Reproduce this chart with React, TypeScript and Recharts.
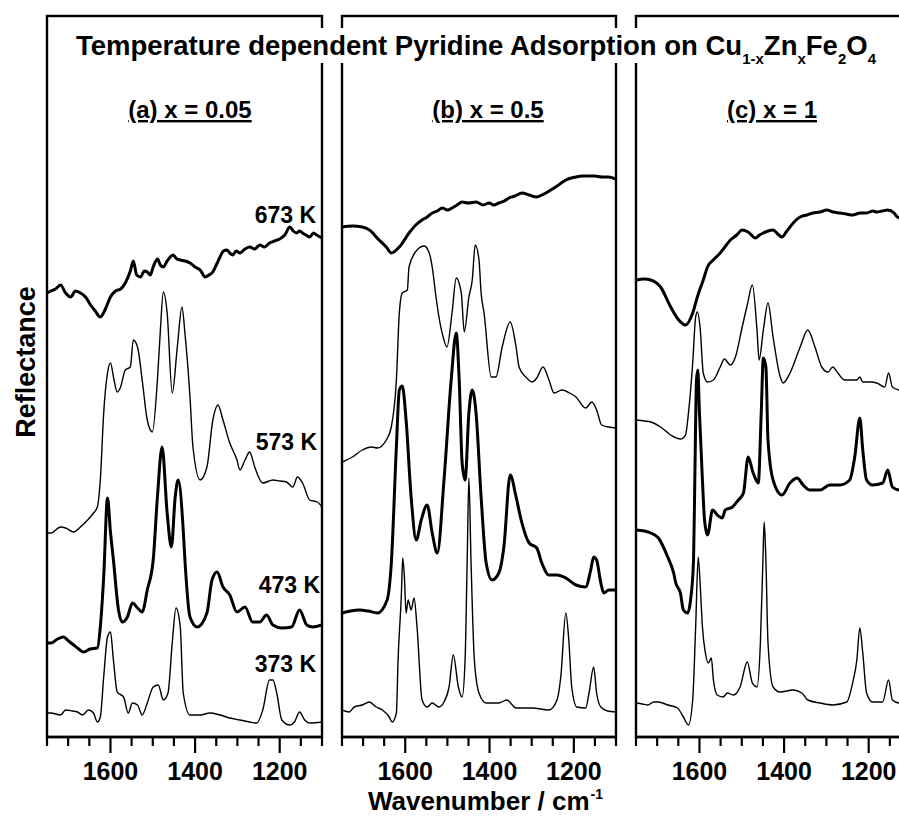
import React from 'react';
import { LineChart, Line, XAxis, YAxis } from 'recharts';

type Pt = [number, number];

const FONT = '"Liberation Sans", Arial, Helvetica, sans-serif';

const TICKS = [1100, 1150, 1200, 1250, 1300, 1350, 1400, 1450, 1500, 1550, 1600, 1650, 1700, 1750];
const MAJOR_TICKS = [1200, 1400, 1600];
const TEMPS = ['673 K', '573 K', '473 K', '373 K'];
const PANEL_NAMES = ['(a) x = 0.05', '(b) x = 0.5', '(c) x = 1'];

// spectra: [wavenumber, reflectance (arb. units, stacked)]
const a673: Pt[] = [
  [1750, 444], [1741, 446], [1730, 448], [1718, 452], [1706, 444], [1694, 440], [1683, 446], [1671, 444],
  [1659, 440], [1647, 432], [1636, 426], [1624, 420], [1612, 428], [1600, 440], [1588, 446], [1576, 448],
  [1565, 454], [1553, 466], [1546, 476], [1538, 462], [1529, 460], [1520, 466], [1513, 465], [1506, 462],
  [1499, 470], [1489, 478], [1482, 472], [1475, 470], [1466, 476], [1452, 482], [1443, 478], [1435, 477],
  [1424, 476], [1412, 474], [1400, 470], [1388, 467], [1376, 460], [1367, 462], [1358, 465], [1350, 472],
  [1341, 480], [1333, 486], [1325, 487], [1318, 484], [1311, 482], [1303, 486], [1294, 484], [1282, 488],
  [1271, 490], [1259, 488], [1247, 492], [1236, 490], [1224, 494], [1212, 496], [1200, 498], [1188, 502],
  [1176, 510], [1168, 506], [1160, 504], [1153, 506], [1146, 504], [1138, 502], [1129, 500], [1120, 504],
  [1113, 502], [1100, 499],
];
const a573: Pt[] = [
  [1750, 204], [1741, 204], [1718, 210], [1706, 209], [1687, 205], [1671, 210], [1654, 217], [1640, 224],
  [1631, 230], [1624, 257], [1616, 324], [1607, 364], [1600, 374], [1592, 358], [1584, 345], [1576, 350],
  [1565, 367], [1553, 370], [1546, 397], [1536, 390], [1525, 357], [1513, 317], [1501, 305], [1489, 357],
  [1482, 407], [1475, 445], [1466, 424], [1454, 344], [1442, 390], [1431, 430], [1424, 404], [1412, 340],
  [1405, 290], [1388, 257], [1372, 270], [1358, 317], [1346, 332], [1334, 317], [1318, 294], [1301, 277],
  [1294, 267], [1282, 277], [1271, 285], [1259, 270], [1240, 254], [1216, 257], [1200, 256], [1184, 255],
  [1169, 250], [1158, 260], [1146, 254], [1129, 237], [1111, 235], [1100, 230],
];
const a473: Pt[] = [
  [1750, 94], [1741, 94], [1725, 98], [1711, 100], [1699, 96], [1687, 92], [1675, 88], [1664, 85],
  [1648, 88], [1631, 89], [1624, 110], [1616, 160], [1607, 239], [1600, 205], [1593, 177], [1581, 127],
  [1572, 115], [1560, 120], [1548, 134], [1536, 129], [1525, 125], [1513, 147], [1499, 177], [1489, 240],
  [1478, 290], [1466, 224], [1456, 190], [1447, 240], [1440, 257], [1428, 207], [1424, 177], [1412, 120],
  [1395, 110], [1372, 124], [1360, 157], [1348, 165], [1334, 150], [1318, 142], [1301, 125], [1282, 130],
  [1264, 115], [1247, 115], [1231, 122], [1216, 112], [1195, 109], [1172, 110], [1153, 127], [1136, 112],
  [1122, 110], [1100, 112],
];
const a373: Pt[] = [
  [1750, 24], [1741, 24], [1718, 22], [1706, 27], [1690, 26], [1678, 25], [1666, 22], [1652, 27],
  [1640, 24], [1631, 15], [1624, 20], [1616, 60], [1607, 100], [1600, 105], [1593, 77], [1584, 45],
  [1569, 40], [1558, 24], [1548, 34], [1536, 32], [1525, 22], [1513, 34], [1499, 50], [1487, 52],
  [1475, 37], [1464, 44], [1454, 94], [1445, 129], [1435, 110], [1428, 44], [1412, 22], [1388, 22],
  [1365, 24], [1341, 22], [1318, 19], [1294, 17], [1271, 15], [1254, 14], [1240, 27], [1224, 57],
  [1216, 57], [1207, 44], [1195, 17], [1176, 12], [1165, 15], [1153, 25], [1141, 17], [1129, 14],
  [1100, 15],
];

const b673: Pt[] = [
  [1750, 510], [1725, 511], [1702, 510], [1685, 507], [1662, 497], [1645, 490], [1633, 484], [1614, 490],
  [1591, 504], [1575, 512], [1560, 517], [1548, 520], [1536, 524], [1524, 526], [1512, 529], [1500, 527],
  [1489, 529], [1477, 532], [1465, 535], [1450, 534], [1432, 535], [1415, 532], [1401, 534], [1390, 532],
  [1378, 534], [1365, 536], [1354, 539], [1340, 541], [1323, 544], [1306, 542], [1288, 540], [1276, 542],
  [1266, 544], [1255, 547], [1243, 550], [1230, 554], [1219, 557], [1195, 560], [1180, 561], [1164, 561],
  [1150, 561], [1134, 560], [1118, 560], [1100, 558],
];
const b573: Pt[] = [
  [1750, 275], [1725, 280], [1702, 287], [1680, 290], [1666, 289], [1645, 297], [1633, 310], [1621, 357],
  [1614, 424], [1607, 444], [1595, 447], [1591, 470], [1572, 487], [1555, 491], [1543, 484], [1536, 470],
  [1527, 440], [1520, 420], [1510, 400], [1501, 390], [1489, 424], [1479, 459], [1467, 444], [1460, 405],
  [1449, 440], [1441, 457], [1434, 492], [1425, 477], [1420, 444], [1413, 424], [1396, 360], [1385, 360],
  [1370, 390], [1351, 415], [1337, 390], [1330, 370], [1314, 360], [1299, 355], [1288, 359], [1273, 370],
  [1259, 357], [1247, 344], [1228, 347], [1210, 344], [1195, 340], [1172, 329], [1157, 335], [1146, 327],
  [1134, 312], [1117, 310], [1100, 309],
];
const b473: Pt[] = [
  [1750, 124], [1730, 126], [1709, 127], [1688, 126], [1666, 124], [1643, 137], [1633, 174], [1621, 290],
  [1614, 347], [1607, 351], [1598, 317], [1586, 240], [1574, 197], [1562, 217], [1548, 232], [1536, 204],
  [1524, 184], [1508, 257], [1491, 357], [1479, 404], [1472, 357], [1465, 274], [1458, 257], [1449, 324],
  [1441, 347], [1432, 324], [1420, 240], [1408, 174], [1394, 157], [1378, 164], [1366, 190], [1351, 262],
  [1337, 240], [1325, 217], [1306, 194], [1288, 189], [1276, 174], [1259, 162], [1240, 162], [1219, 159],
  [1195, 152], [1172, 150], [1160, 167], [1153, 180], [1146, 177], [1136, 154], [1129, 144], [1117, 147],
  [1100, 147],
];
const b373: Pt[] = [
  [1750, 27], [1733, 25], [1721, 30], [1702, 32], [1685, 35], [1669, 30], [1654, 27], [1638, 20],
  [1631, 15], [1621, 24], [1617, 77], [1609, 144], [1606, 179], [1602, 160], [1598, 124], [1593, 137],
  [1586, 127], [1579, 139], [1572, 110], [1560, 37], [1548, 30], [1536, 34], [1520, 30], [1508, 35],
  [1496, 50], [1486, 82], [1474, 50], [1465, 40], [1458, 77], [1453, 177], [1449, 259], [1444, 177],
  [1436, 77], [1425, 44], [1408, 34], [1378, 34], [1359, 37], [1337, 29], [1299, 29], [1259, 27],
  [1240, 37], [1231, 60], [1219, 124], [1212, 97], [1205, 50], [1193, 30], [1172, 29], [1164, 44],
  [1153, 70], [1146, 44], [1136, 30], [1120, 26], [1100, 25],
];

const c673: Pt[] = [
  [1750, 457], [1730, 458], [1715, 457], [1692, 450], [1668, 430], [1649, 417], [1633, 412], [1616, 424],
  [1605, 440], [1591, 457], [1581, 470], [1565, 478], [1551, 484], [1540, 490], [1527, 497], [1512, 502],
  [1499, 507], [1485, 505], [1468, 499], [1458, 502], [1449, 504], [1438, 506], [1426, 507], [1415, 503],
  [1405, 500], [1395, 505], [1386, 510], [1374, 516], [1362, 520], [1346, 522], [1332, 524], [1315, 525],
  [1299, 527], [1284, 525], [1268, 524], [1253, 523], [1238, 522], [1220, 524], [1205, 524], [1190, 526],
  [1181, 525], [1168, 526], [1155, 527], [1140, 524], [1132, 520], [1115, 518], [1100, 518],
];
const c573: Pt[] = [
  [1750, 317], [1730, 316], [1715, 315], [1692, 310], [1668, 302], [1645, 298], [1633, 302], [1626, 324],
  [1616, 374], [1609, 420], [1605, 425], [1598, 407], [1591, 364], [1581, 355], [1567, 357], [1551, 370],
  [1541, 378], [1527, 372], [1515, 380], [1499, 410], [1487, 432], [1475, 452], [1464, 407], [1459, 377],
  [1449, 407], [1438, 434], [1426, 400], [1409, 360], [1402, 354], [1386, 364], [1362, 390], [1344, 407],
  [1327, 390], [1311, 370], [1296, 365], [1285, 370], [1273, 364], [1257, 357], [1228, 357], [1221, 360],
  [1214, 355], [1195, 355], [1181, 354], [1162, 350], [1153, 364], [1144, 350], [1129, 347], [1115, 346],
  [1100, 345],
];
const c473: Pt[] = [
  [1750, 207], [1730, 206], [1715, 204], [1697, 199], [1675, 180], [1661, 164], [1656, 154], [1645, 144],
  [1638, 127], [1628, 124], [1621, 137], [1614, 177], [1611, 257], [1607, 357], [1604, 367], [1600, 324],
  [1593, 257], [1588, 217], [1581, 202], [1569, 227], [1558, 222], [1546, 219], [1539, 227], [1522, 230],
  [1508, 237], [1496, 244], [1485, 280], [1473, 264], [1461, 254], [1454, 324], [1449, 379], [1443, 370],
  [1438, 297], [1426, 257], [1405, 242], [1386, 254], [1369, 259], [1355, 252], [1339, 247], [1315, 247],
  [1292, 252], [1268, 252], [1245, 257], [1233, 280], [1221, 319], [1214, 287], [1205, 257], [1191, 252],
  [1167, 254], [1155, 267], [1144, 250], [1129, 247], [1100, 246],
];
const c373: Pt[] = [
  [1750, 34], [1735, 33], [1722, 32], [1708, 35], [1697, 35], [1675, 32], [1652, 29], [1638, 20],
  [1626, 12], [1616, 37], [1609, 110], [1603, 180], [1598, 150], [1593, 110], [1586, 84], [1579, 74],
  [1572, 79], [1567, 57], [1558, 42], [1544, 40], [1534, 44], [1520, 42], [1504, 50], [1487, 75],
  [1475, 54], [1464, 50], [1456, 94], [1450, 177], [1447, 215], [1443, 177], [1438, 94], [1426, 50],
  [1409, 45], [1379, 47], [1358, 44], [1344, 37], [1315, 34], [1285, 32], [1252, 35], [1238, 54],
  [1228, 77], [1221, 109], [1214, 84], [1205, 44], [1191, 35], [1167, 35], [1153, 57], [1144, 37],
  [1129, 34], [1100, 33],
];

const SERIES_WIDTHS = [3, 1.4, 3, 1.4];

const PANELS = [
  { left: 47, width: 275, name: PANEL_NAMES[0], nameX: 190, spectra: [a673, a573, a473, a373] },
  { left: 342, width: 274, name: PANEL_NAMES[1], nameX: 488, spectra: [b673, b573, b473, b373] },
  { left: 636, width: 275, name: PANEL_NAMES[2], nameX: 772, spectra: [c673, c573, c473, c373] },
];

const PLOT_TOP = 16;
const PLOT_H = 721;
const AXIS_H = 62;
const PAD = 10;

const toRows = (pts: Pt[]) => pts.map(([wn, v]) => ({ wn, v }));

const WaveTick = (props: any) => {
  const { x, y, payload } = props;
  const major = MAJOR_TICKS.includes(payload.value);
  return (
    <g>
      <line x1={x} x2={x} y1={y} y2={y + (major ? 16 : 9)} stroke="#000" strokeWidth={2.2} />
      {major && (
        <text x={x} y={y + 43} textAnchor="middle" fontSize={25} fontWeight="bold" fontFamily={FONT} fill="#000">
          {payload.value}
        </text>
      )}
    </g>
  );
};

const Panel = ({ spectra, width }: { spectra: Pt[][]; width: number }) => (
  <LineChart
    width={width + PAD * 2}
    height={PLOT_TOP + PLOT_H + AXIS_H}
    margin={{ top: PLOT_TOP, right: PAD, bottom: 0, left: PAD }}
  >
    <XAxis
      xAxisId="b"
      type="number"
      dataKey="wn"
      domain={[1100, 1750]}
      reversed
      allowDataOverflow
      ticks={TICKS}
      interval={0}
      height={AXIS_H}
      tickSize={0}
      tickMargin={0}
      tickLine={false}
      axisLine={{ stroke: '#000', strokeWidth: 2.4 }}
      tick={(p: any) => <WaveTick {...p} />}
    />
    <YAxis yAxisId="l" type="number" domain={[0, 721]} allowDataOverflow hide />
    {spectra.map((pts, i) => (
      <Line
        key={i}
        xAxisId="b"
        yAxisId="l"
        data={toRows(pts)}
        dataKey="v"
        type="monotone"
        stroke="#000"
        strokeWidth={SERIES_WIDTHS[i]}
        strokeLinejoin="round"
        dot={false}
        activeDot={false}
        isAnimationActive={false}
      />
    ))}
  </LineChart>
);

const TEMP_LABEL_Y = [223, 450, 593, 672];
const TEMP_LABEL_X = [316, 317, 320, 316];

export default function App() {
  return (
    <div style={{ position: 'absolute', left: 0, top: 0, width: 899, height: 816, overflow: 'hidden', background: '#fff' }}>
      {PANELS.map((p, i) => (
        <div key={i} style={{ position: 'absolute', left: p.left - PAD, top: 0 }}>
          <Panel spectra={p.spectra} width={p.width} />
        </div>
      ))}
      <svg width={899} height={816} style={{ position: 'absolute', left: 0, top: 0, pointerEvents: 'none' }}>
        {PANELS.map((p, i) => (
          <rect key={i} x={p.left} y={PLOT_TOP} width={p.width} height={PLOT_H} fill="none" stroke="#000" strokeWidth={2.4} />
        ))}
        <rect x={66} y={28} width={822} height={35} fill="#fff" />
        <text x={476} y={55} textAnchor="middle" fontFamily={FONT} fontWeight="bold" fontSize={27.5} fill="#000">
          Temperature dependent Pyridine Adsorption on Cu
          <tspan fontSize={15} dy={9}>1-x</tspan>
          <tspan dy={-9}>Zn</tspan>
          <tspan fontSize={15} dy={9}>x</tspan>
          <tspan dy={-9}>Fe</tspan>
          <tspan fontSize={15} dy={9}>2</tspan>
          <tspan dy={-9}>O</tspan>
          <tspan fontSize={15} dy={9}>4</tspan>
        </text>
        {PANELS.map((p, i) => (
          <text
            key={i}
            x={p.nameX}
            y={118}
            textAnchor="middle"
            fontFamily={FONT}
            fontWeight="bold"
            fontSize={24}
            fill="#000"
            style={{ textDecoration: 'underline' }}
          >
            {p.name}
          </text>
        ))}
        {TEMPS.map((t, i) => (
          <text key={t} x={TEMP_LABEL_X[i]} y={TEMP_LABEL_Y[i]} textAnchor="end" fontFamily={FONT} fontWeight="bold" fontSize={23} fill="#000">
            {t}
          </text>
        ))}
        <text
          transform="translate(35,362) rotate(-90)"
          textAnchor="middle"
          fontFamily={FONT}
          fontWeight="bold"
          fontSize={27}
          fill="#000"
        >
          Reflectance
        </text>
        <text x={368} y={810} fontFamily={FONT} fontWeight="bold" fontSize={26} fill="#000">
          Wavenumber / cm
          <tspan fontSize={14} dy={-11} dx={1}>-1</tspan>
        </text>
      </svg>
    </div>
  );
}
